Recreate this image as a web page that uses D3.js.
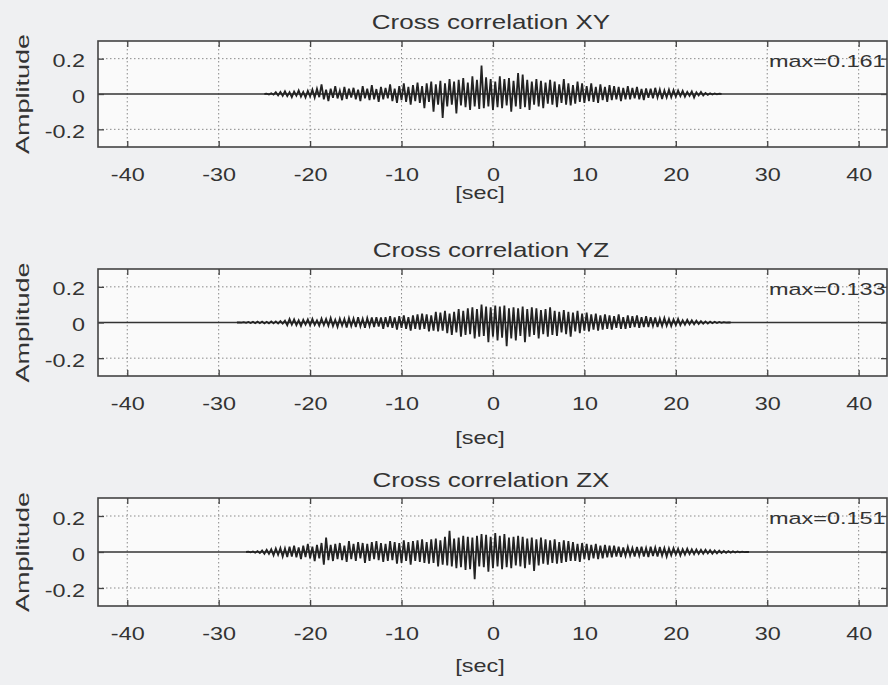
<!DOCTYPE html>
<html>
<head>
<meta charset="utf-8">
<title>Cross correlation</title>
<script src="https://cdn.jsdelivr.net/npm/d3@7"></script>
<style>
  body { margin: 0; background: #eff0f2; }
  svg { display: block; font-family: "Liberation Sans", Arial, sans-serif; }
  .grid line { stroke: #8a8a8a; stroke-width: 1; stroke-dasharray: 1.5, 2.5; }
  .ax path { display: none; }
  .ax line { stroke: #444; stroke-width: 1.3; }
  .ax text { fill: #333; font-size: 18px; }
</style>
</head>
<body>
<div class="chart"></div>
<script>
const titles = ['Cross correlation XY', 'Cross correlation YZ', 'Cross correlation ZX']
const maxLabels = ['max=0.161', 'max=0.133', 'max=0.151']
const xTicks = [-40, -30, -20, -10, 0, 10, 20, 30, 40]
const yTicks = [-0.2, 0, 0.2]
const xLabel = '[sec]'
const yLabel = 'Amplitude'

// samples every 0.25 sec, starting time of each series
const sampleStep = 0.25
const starts = [-25, -28, -27]

const xyValues = [
  0, .002, -.003, .004, -.004, .01, -.008, .012, -.01, .015, -.012, .01, -.018, .014, -.01, .02, -.015, .012, -.02, .018,
  -.014, .025, -.02, .03, -.018, .055, -.03, .025, -.04, .03, -.022, .045, -.025, .02, -.035, .04, -.028, .03, -.02, .035,
  -.03, .025, -.04, .045, -.025, .03, -.035, .05, -.03, .028, -.045, .04, -.03, .035, -.025, .055, -.04, .03, -.05, .045,
  -.035, .06, -.045, .04, -.06, .05, -.04, .065, -.05, .045, -.08, .06, -.045, .07, -.1, .055, -.06, .075, -.135, .06,
  -.07, .085, -.06, .07, -.11, .08, -.065, .09, -.075, .065, -.09, .1, -.07, .08, -.085, .161, -.08, .095, -.07, .085,
  -.09, .07, -.075, .1, -.08, .085, -.065, .09, -.1, .075, -.07, .118, -.085, .11, -.075, .08, -.09, .07, -.06, .085,
  -.07, .075, -.08, .065, -.055, .08, -.06, .07, -.075, .055, -.05, .085, -.06, .06, -.065, .05, -.055, .07, -.045, .06,
  -.05, .045, -.04, .06, -.045, .04, -.05, .055, -.035, .04, -.045, .05, -.035, .045, -.03, .04, -.04, .035, -.03, .045,
  -.03, .035, -.025, .04, -.03, .028, -.035, .032, -.022, .03, -.025, .035, -.02, .025, -.028, .02, -.02, .025, -.018, .022,
  -.015, .02, -.012, .018, -.015, .012, -.01, .015, -.02, .01, -.008, .012, -.008, .006, -.005, .004, -.003, .003, -.002, .002,
  0
]

const yzValues = [
  0, .001, -.001, .002, -.002, .003, -.003, .004, -.004, .005, -.004, .005, -.005, .004, -.005, .006, -.005, .006, -.006, .008,
  -.006, .01, -.015, .02, -.012, .018, -.015, .012, -.02, .015, -.012, .018, -.016, .02, -.014, .012, -.018, .022, -.015, .02,
  -.018, .025, -.02, .015, -.025, .022, -.018, .02, -.028, .025, -.02, .022, -.025, .03, -.022, .02, -.03, .025, -.02, .028,
  -.025, .03, -.022, .028, -.035, .03, -.025, .035, -.03, .028, -.04, .035, -.03, .04, -.035, .03, -.045, .04, -.035, .045,
  -.04, .05, -.035, .045, -.05, .04, -.045, .06, -.05, .055, -.045, .065, -.06, .05, -.07, .06, -.055, .075, -.08, .065,
  -.07, .08, -.065, .085, -.09, .075, -.08, .1, -.075, .09, -.11, .085, -.08, .095, -.1, .09, -.085, .095, -.133, .08,
  -.09, .085, -.1, .08, -.075, .09, -.11, .075, -.08, .085, -.07, .08, -.09, .07, -.065, .075, -.08, .085, -.07, .065,
  -.075, .06, -.055, .07, -.065, .06, -.08, .055, -.05, .065, -.06, .05, -.045, .055, -.05, .045, -.04, .05, -.045, .04,
  -.04, .045, -.035, .04, -.04, .035, -.03, .045, -.035, .03, -.035, .04, -.03, .035, -.025, .04, -.03, .03, -.025, .035,
  -.025, .03, -.02, .028, -.025, .022, -.02, .025, -.018, .02, -.02, .018, -.015, .02, -.015, .012, -.012, .015, -.01, .012,
  -.01, .01, -.008, .008, -.007, .006, -.006, .005, -.004, .004, -.003, .003, -.002, .002, -.001, .001,
  0
]

const zxValues = [
  0, .002, -.002, .003, -.004, .005, -.006, .008, -.01, .012, -.01, .015, -.018, .02, -.015, .022, -.025, .02, -.028, .03,
  -.025, .035, -.03, .025, -.04, .035, -.028, .045, -.035, .03, -.05, .04, -.035, .05, -.07, .08, -.045, .04, -.05, .045,
  -.04, .05, -.045, .035, -.055, .06, -.04, .045, -.05, .055, -.035, .05, -.06, .045, -.05, .055, -.04, .06, -.045, .05,
  -.055, .045, -.05, .06, -.045, .055, -.065, .05, -.06, .065, -.05, .055, -.07, .06, -.05, .065, -.055, .07, -.06, .055,
  -.065, .07, -.06, .075, -.08, .065, -.07, .085, -.075, .118, -.08, .075, -.09, .08, -.085, .09, -.1, .085, -.095, .08,
  -.151, .09, -.08, .1, -.085, .095, -.11, .085, -.09, .105, -.08, .09, -.095, .1, -.085, .08, -.09, .085, -.075, .09,
  -.08, .085, -.09, .075, -.07, .08, -.105, .07, -.075, .08, -.065, .07, -.07, .065, -.06, .07, -.065, .055, -.06, .065,
  -.055, .06, -.05, .055, -.05, .045, -.055, .05, -.04, .045, -.045, .04, -.035, .045, -.04, .035, -.035, .04, -.03, .035,
  -.03, .035, -.025, .03, -.028, .025, -.022, .028, -.02, .022, -.025, .028, -.02, .03, -.025, .022, -.028, .03, -.022, .025,
  -.025, .028, -.02, .022, -.025, .02, -.018, .022, -.015, .018, -.02, .015, -.015, .018, -.012, .015, -.012, .014, -.01, .012,
  -.01, .012, -.008, .01, -.009, .008, -.007, .008, -.006, .006, -.005, .005, -.004, .004, -.003, .003, -.002, .002, -.001, .001,
  0
]

const series = [xyValues, yzValues, zxValues]

const w = 888
const h = 685
const left = 98
const right = 887
const sx = 1.3   // the scanned figure is wider than tall
const panels = [
  { top: 41, bottom: 147, titleY: 29, secY: 199 },
  { top: 269, bottom: 376, titleY: 257, secY: 444 },
  { top: 498, bottom: 606, titleY: 487, secY: 672 }
]

const svg = d3.select('.chart')
  .append('svg')
  .attr('width', w)
  .attr('height', h)

const x = d3.scaleLinear().domain([-43.2, 43.1]).range([left, right])

panels.forEach((p, k) => {
  const y = d3.scaleLinear().domain([-0.3, 0.3]).range([p.bottom, p.top])
  const g = svg.append('g')

  g.append('rect')
    .attr('x', left).attr('y', p.top)
    .attr('width', right - left).attr('height', p.bottom - p.top)
    .attr('fill', '#fafafa')

  // dotted grid
  g.append('g').attr('class', 'grid')
    .selectAll('line').data(xTicks).enter().append('line')
    .attr('x1', d => x(d)).attr('x2', d => x(d))
    .attr('y1', p.top).attr('y2', p.bottom)
  g.append('g').attr('class', 'grid')
    .selectAll('line').data(yTicks.filter(d => d != 0)).enter().append('line')
    .attr('x1', left).attr('x2', right)
    .attr('y1', d => y(d)).attr('y2', d => y(d))

  // zero line and the signal
  g.append('line')
    .attr('x1', left).attr('x2', right)
    .attr('y1', y(0)).attr('y2', y(0))
    .attr('stroke', '#333').attr('stroke-width', 1.6)

  const line = d3.line()
    .x((d, i) => x(starts[k] + i * sampleStep))
    .y(d => y(d))
  g.append('path')
    .datum(series[k])
    .attr('d', line)
    .attr('fill', 'none')
    .attr('stroke', '#222')
    .attr('stroke-width', 1.8)
    .attr('stroke-linejoin', 'miter')

  // axes, ticks pointing inwards
  const bx = g.append('g').attr('class', 'ax')
    .attr('transform', 'translate(0,' + p.bottom + ')')
    .call(d3.axisBottom(x).tickValues(xTicks).tickSize(-6).tickPadding(21).tickFormat(d => String(d)))
  bx.selectAll('text').attr('transform', 'scale(' + sx + ',1)')
  g.append('g').attr('class', 'ax')
    .attr('transform', 'translate(0,' + p.top + ')')
    .call(d3.axisTop(x).tickValues(xTicks).tickSize(-6).tickFormat(''))
  const ly = g.append('g').attr('class', 'ax')
    .attr('transform', 'translate(' + left + ',0)')
    .call(d3.axisLeft(y).tickValues(yTicks).tickSize(-6).tickPadding(13).tickFormat(d => String(d)))
  ly.selectAll('text').attr('x', -13 / sx).attr('dy', '0.45em').attr('transform', 'scale(' + sx + ',1)')
  g.append('g').attr('class', 'ax')
    .attr('transform', 'translate(' + right + ',0)')
    .call(d3.axisRight(y).tickValues(yTicks).tickSize(-6).tickFormat(''))

  g.append('rect')
    .attr('x', left).attr('y', p.top)
    .attr('width', right - left).attr('height', p.bottom - p.top)
    .attr('fill', 'none').attr('stroke', '#444').attr('stroke-width', 1.6)

  // texts
  g.append('text')
    .attr('transform', 'translate(' + 491 + ',' + p.titleY + ') scale(' + sx + ',1)')
    .attr('text-anchor', 'middle')
    .attr('font-size', 20).attr('fill', '#333')
    .text(titles[k])

  g.append('text')
    .attr('transform', 'translate(' + 480 + ',' + p.secY + ') scale(' + sx + ',1)')
    .attr('text-anchor', 'middle')
    .attr('font-size', 18).attr('fill', '#333')
    .text(xLabel)

  g.append('text')
    .attr('transform', 'translate(' + 769 + ',' + (p.top + 26) + ') scale(1.38,1)')
    .attr('font-size', 17).attr('fill', '#333')
    .text(maxLabels[k])

  g.append('text')
    .attr('transform', 'translate(29,' + (p.top + p.bottom) / 2 + ') rotate(-90) scale(1.5,1)')
    .attr('text-anchor', 'middle')
    .attr('font-size', 18).attr('fill', '#333')
    .text(yLabel)
})
</script>
</body>
</html>
